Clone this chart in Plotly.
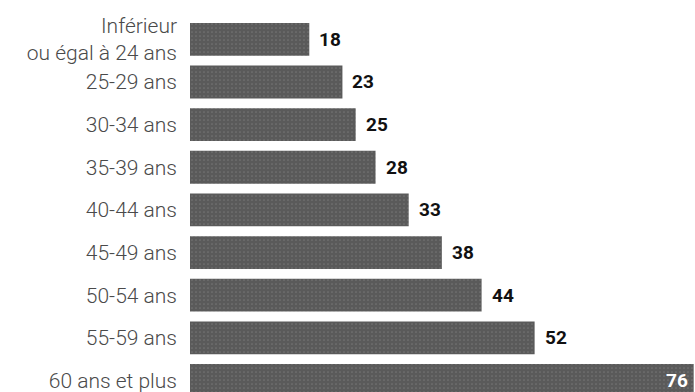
import plotly.graph_objects as go

categories = ["Inférieur<br>ou égal à 24 ans", "25-29 ans", "30-34 ans", "35-39 ans",
              "40-44 ans", "45-49 ans", "50-54 ans", "55-59 ans", "60 ans et plus"]
values = [18, 23, 25, 28, 33, 38, 44, 52, 76]
value_labels = [str(v) for v in values]

bar_color = "#5a5a5a"

fig = go.Figure()
fig.add_trace(go.Bar(
    y=categories, x=values, orientation="h",
    marker=dict(color=bar_color, line=dict(width=0),
                pattern=dict(shape=".", fgcolor="#8a8a8a", bgcolor=bar_color,
                             size=4, solidity=0.15)),
    width=0.77,
    hoverinfo="skip",
))

annotations = []
n = len(values)
for i, (c, v, t) in enumerate(zip(categories, values, value_labels)):
    last = i == n - 1
    annotations.append(dict(
        x=v, y=c, xref="x", yref="y", text=f"<b>{t}</b>", showarrow=False,
        xanchor="right" if last else "left",
        xshift=-4 if last else 8,
        font=dict(family="Roboto", size=19, color="white" if last else "#111"),
    ))

fig.update_layout(
    width=695, height=392,
    margin=dict(l=190, r=0, t=18, b=0),
    paper_bgcolor="white", plot_bgcolor="white",
    showlegend=False,
    annotations=annotations,
    xaxis=dict(range=[0, 76.2], visible=False, fixedrange=True),
    yaxis=dict(categoryorder="array", categoryarray=categories,
               range=[8.27, -0.5], showgrid=False, zeroline=False,
               showline=False, ticks="", ticklabelstandoff=12,
               tickfont=dict(family="Roboto", size=21, color="#4a4a4a", weight=300)),
    bargap=0.23,
)

fig.write_html("out.html")
